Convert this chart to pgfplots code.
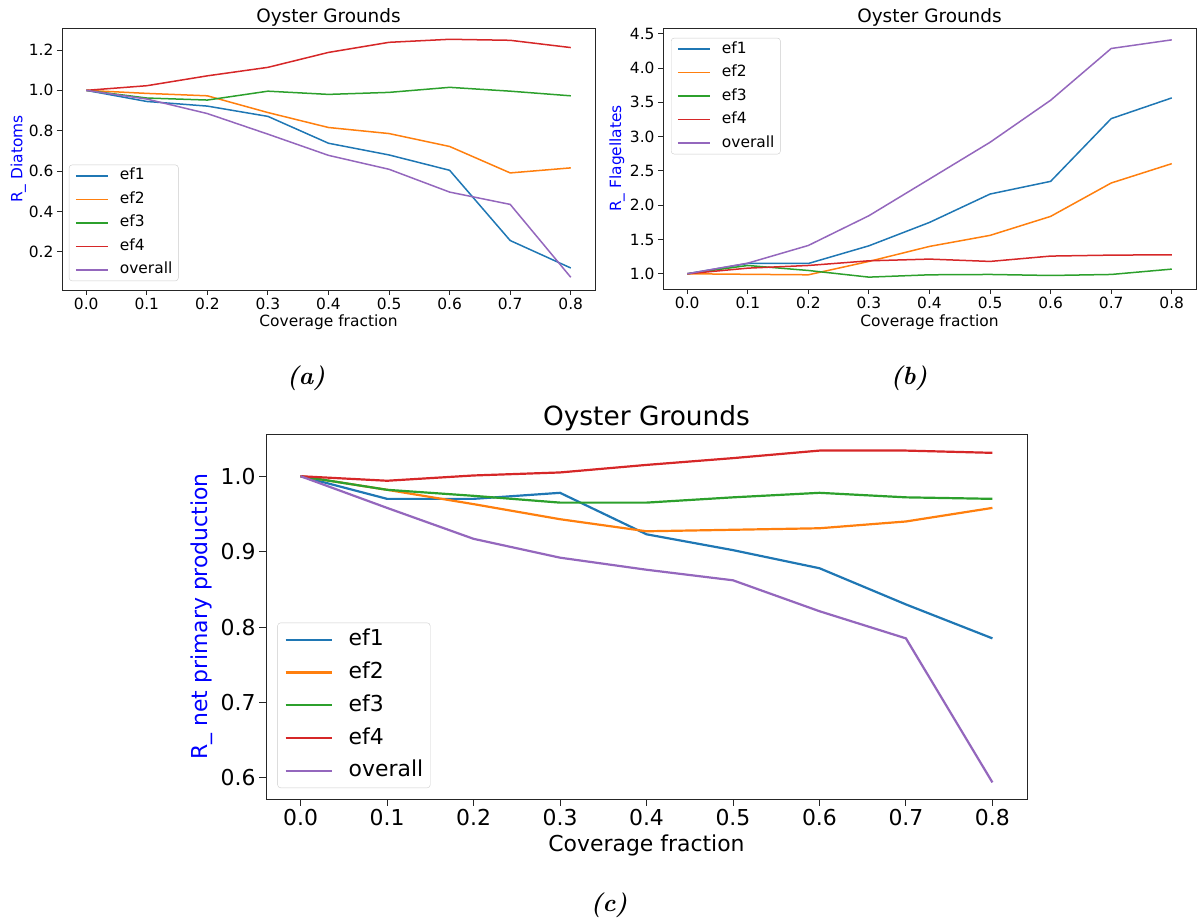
\documentclass[border=0pt]{standalone}
\usepackage{fontspec}
\usepackage{pgfplots}
\usepackage{pgfplotstable}
\pgfplotsset{compat=1.18}
\newfontfamily\dejavu{DejaVu Sans}

\definecolor{cOne}{HTML}{1F77B4}
\definecolor{cTwo}{HTML}{FF7F0E}
\definecolor{cThree}{HTML}{2CA02C}
\definecolor{cFour}{HTML}{D62728}
\definecolor{cAll}{HTML}{9467BD}

% R_ Diatoms
\pgfplotstableread{
x   ef1   ef2   ef3   ef4   overall
0.0 1.000 1.000 1.000 1.000 1.000
0.1 0.945 0.985 0.962 1.023 0.957
0.2 0.922 0.973 0.952 1.072 0.885
0.3 0.871 0.890 0.996 1.114 0.783
0.4 0.738 0.816 0.980 1.188 0.678
0.5 0.680 0.786 0.990 1.238 0.609
0.6 0.604 0.722 1.015 1.253 0.496
0.7 0.256 0.591 0.996 1.248 0.435
0.8 0.120 0.616 0.973 1.212 0.074
}\diatoms

% R_ Flagellates
\pgfplotstableread{
x   ef1   ef2   ef3   ef4   overall
0.0 1.000 1.000 1.000 1.000 1.000
0.1 1.150 0.992 1.121 1.082 1.155
0.2 1.150 0.985 1.048 1.121 1.413
0.3 1.408 1.180 0.951 1.189 1.847
0.4 1.749 1.399 0.985 1.214 2.382
0.5 2.163 1.560 0.990 1.180 2.918
0.6 2.348 1.837 0.975 1.258 3.531
0.7 3.263 2.324 0.990 1.272 4.286
0.8 3.565 2.606 1.068 1.277 4.412
}\flagellates

% R_ net primary production
\pgfplotstableread{
x   ef1   ef2   ef3   ef4   overall
0.0 1.000 1.000 1.000 1.000 1.000
0.1 0.970 0.982 0.982 0.994 0.958
0.2 0.970 0.963 0.974 1.001 0.917
0.3 0.978 0.943 0.965 1.005 0.892
0.4 0.923 0.927 0.965 1.015 0.876
0.5 0.902 0.929 0.972 1.024 0.862
0.6 0.878 0.931 0.978 1.034 0.821
0.7 0.830 0.940 0.972 1.034 0.785
0.8 0.785 0.958 0.970 1.031 0.594
}\npp

\pgfplotsset{
  og/.style n args={5}{% ylabel x, xlabel y, title y, label size, title size
    scale only axis,
    xmin=-0.04, xmax=0.84,
    xtick={0,0.1,0.2,0.3,0.4,0.5,0.6,0.7,0.8},
    tick pos=left, tick align=outside,
    axis line style={black!85, line width=0.9bp},
    major tick style={black!85, line width=0.9bp},
    /pgf/number format/assume math mode=true,
    xticklabel style={/pgf/number format/.cd, fixed, fixed zerofill, precision=1},
    yticklabel style={/pgf/number format/.cd, fixed, fixed zerofill, precision=1},
    tick label style={font=\dejavu\fontsize{#4}{#4}\selectfont},
    legend cell align=left,
    legend style={draw=black!20, rounded corners=3bp, fill=white, fill opacity=0.8, text opacity=1,
      font=\dejavu\fontsize{#4}{#4}\selectfont},
    every axis y label/.style={at={(axis description cs:#1,0.5)}, rotate=90, anchor=center,
      text=blue, font=\dejavu\fontsize{#4}{#4}\selectfont},
    every axis x label/.style={at={(axis description cs:0.5,#2)}, anchor=center,
      font=\dejavu\fontsize{#4}{#4}\selectfont},
    every axis title/.style={at={(axis description cs:0.5,#3)}, anchor=center,
      font=\dejavu\fontsize{#5}{#5}\selectfont},
  },
  small/.style={
    major tick length=5bp,
    every axis plot/.append style={line width=1.5bp},
    legend style={inner xsep=6bp, inner ysep=4bp, row sep=9.5bp,
      nodes={inner sep=0pt, text height=11bp, text depth=3bp}},
    legend image code/.code={\path[draw=none] (0bp,0bp) -- (44bp,0bp); \draw[##1] (0bp,0bp) -- (32bp,0bp);},
  },
}

\begin{document}
\begin{tikzpicture}
\useasboundingbox (0,0) rectangle (1201bp,924bp);

% (a) diatoms
\begin{axis}[og={-0.082}{-0.122}{1.042}{15.5}{18.5}, small,
  at={(62bp,634bp)}, anchor=south west, width=533bp, height=262bp,
  ymin=0.011, ymax=1.309, ytick={0.2,0.4,0.6,0.8,1.0,1.2},
  title={Oyster Grounds}, xlabel={Coverage fraction}, ylabel={R\_ Diatoms},
  legend style={at={(axis description cs:0.013,0.034)}, anchor=south west}]
\addplot[cOne] table[x=x,y=ef1] {\diatoms};
\addplot[cTwo] table[x=x,y=ef2] {\diatoms};
\addplot[cThree] table[x=x,y=ef3] {\diatoms};
\addplot[cFour] table[x=x,y=ef4] {\diatoms};
\addplot[cAll] table[x=x,y=overall] {\diatoms};
\legend{ef1,ef2,ef3,ef4,overall}
\end{axis}

% (b) flagellates
\begin{axis}[og={-0.086}{-0.126}{1.042}{15.5}{18.5}, small,
  at={(663bp,635bp)}, anchor=south west, width=533bp, height=261bp,
  ymin=0.778, ymax=4.585, ytick={1.0,1.5,2.0,2.5,3.0,3.5,4.0,4.5},
  title={Oyster Grounds}, xlabel={Coverage fraction}, ylabel={R\_ Flagellates},
  legend style={at={(axis description cs:0.015,0.962)}, anchor=north west}]
\addplot[cOne] table[x=x,y=ef1] {\flagellates};
\addplot[cTwo] table[x=x,y=ef2] {\flagellates};
\addplot[cThree] table[x=x,y=ef3] {\flagellates};
\addplot[cFour] table[x=x,y=ef4] {\flagellates};
\addplot[cAll] table[x=x,y=overall] {\flagellates};
\legend{ef1,ef2,ef3,ef4,overall}
\end{axis}

% (c) net primary production
\begin{axis}[og={-0.084}{-0.126}{1.044}{22}{26.5},
  at={(266bp,125bp)}, anchor=south west, width=761bp, height=365bp,
  ymin=0.572, ymax=1.056, ytick={0.6,0.7,0.8,0.9,1.0},
  major tick length=7bp,
  every axis plot/.append style={line width=2.2bp},
  title={Oyster Grounds}, xlabel={Coverage fraction}, ylabel={R\_ net primary production},
  legend style={at={(axis description cs:0.015,0.030)}, anchor=south west,
    inner xsep=7bp, inner ysep=7bp, row sep=12.75bp,
    nodes={inner sep=0pt, text height=16bp, text depth=4bp}},
  legend image code/.code={\path[draw=none] (0bp,0bp) -- (63bp,0bp); \draw[#1] (0bp,0bp) -- (46bp,0bp);}]
\addplot[cOne] table[x=x,y=ef1] {\npp};
\addplot[cTwo] table[x=x,y=ef2] {\npp};
\addplot[cThree] table[x=x,y=ef3] {\npp};
\addplot[cFour] table[x=x,y=ef4] {\npp};
\addplot[cAll] table[x=x,y=overall] {\npp};
\legend{ef1,ef2,ef3,ef4,overall}
\end{axis}

% panel captions
\node[font=\bfseries\itshape\fontsize{25}{25}\selectfont] at (306bp,546bp) {(a)};
\node[font=\bfseries\itshape\fontsize{25}{25}\selectfont] at (909bp,546bp) {(b)};
\node[font=\bfseries\itshape\fontsize{25}{25}\selectfont] at (609bp,19bp) {(c)};
\end{tikzpicture}
\end{document}
